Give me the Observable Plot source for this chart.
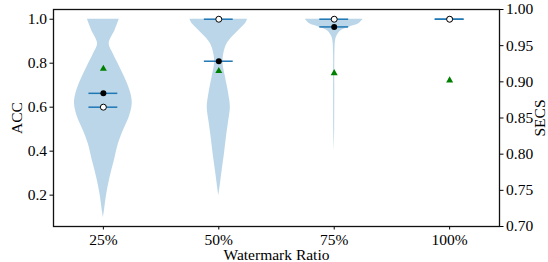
<!DOCTYPE html>
<html>
<head>
<meta charset="utf-8">
<script src="https://cdn.jsdelivr.net/npm/d3@7"></script>
<script src="https://cdn.jsdelivr.net/npm/@observablehq/plot@0.6"></script>
<style>
  html, body { margin: 0; padding: 0; background: #fff; }
</style>
</head>
<body>
<div id="chart"></div>
<script>
// ---- data ----
const categories = ["25%", "50%", "75%", "100%"];
const positions = [1, 2, 3, 4];
const accMean = [0.663, 0.809, 0.965, 1.0];     // black dots
const accMedian = [0.60, 1.0, 1.0, 1.0];        // white dots
const secsValues = [0.918, 0.915, 0.912, 0.902]; // green triangles (right axis)
const accTicks = [0.2, 0.4, 0.6, 0.8, 1.0];
const secsTicks = [0.70, 0.75, 0.80, 0.85, 0.90, 0.95, 1.00];

// violin profiles: [ACC value, half-width]
const violin25 = [[0.098,0],[0.128,0.009],[0.204,0.029],[0.28,0.058],[0.356,0.095],[0.432,0.13],[0.493,0.173],[0.553,0.223],[0.615,0.25],[0.66,0.239],[0.721,0.197],[0.781,0.144],[0.842,0.086],[0.888,0.05],[0.949,0.101],[1.0,0.138]];
const violin50 = [[0.197,0],[0.25,0.014],[0.311,0.029],[0.387,0.049],[0.462,0.066],[0.538,0.086],[0.599,0.1],[0.66,0.086],[0.736,0.058],[0.797,0.037],[0.842,0.043],[0.888,0.072],[0.918,0.115],[0.949,0.173],[0.979,0.23],[1.0,0.25]];
const violin75 = [[0.402,0],[0.5,0.004],[0.7,0.005],[0.85,0.006],[0.903,0.012],[0.926,0.026],[0.949,0.062],[0.964,0.13],[0.979,0.213],[1.0,0.25]];
const violins = [violin25, violin50, violin75, []];

// ---- build tables ----
const yDomain = [0.0574, 1.0442];
const secsDomain = [0.70, 1.00];
const toAcc = s => yDomain[0] + (s - secsDomain[0]) / (secsDomain[1] - secsDomain[0]) * (yDomain[1] - yDomain[0]);
const fromAcc = a => secsDomain[0] + (a - yDomain[0]) / (yDomain[1] - yDomain[0]) * (secsDomain[1] - secsDomain[0]);

const violinRows = [];
violins.forEach((prof, i) => prof.forEach(([v, hw]) => violinRows.push({pos: positions[i], v, hw})));
const points = positions.map((p, i) => ({pos: p, mean: accMean[i], median: accMedian[i], secs: toAcc(secsValues[i])}));

const font = "'Liberation Serif', 'Times New Roman', serif";
const fs = 15.5;

const chart = Plot.plot({
  width: 548,
  height: 262,
  marginLeft: 53,
  marginRight: 49,
  marginTop: 9,
  marginBottom: 36,
  style: {fontFamily: font, fontSize: fs + "px", color: "#000", background: "#fff"},
  x: {type: "linear", domain: [0.568, 4.432]},
  y: {type: "linear", domain: yDomain},
  marks: [
    Plot.areaX(violinRows, {
      y: "v",
      x1: d => d.pos - d.hw,
      x2: d => d.pos + d.hw,
      z: "pos",
      fill: "#1f77b4",
      fillOpacity: 0.3,
      curve: "catmull-rom"
    }),
    Plot.ruleY(points, {y: "mean", x1: d => d.pos - 0.125, x2: d => d.pos + 0.125, stroke: "#1f77b4", strokeWidth: 1.5}),
    Plot.ruleY(points, {y: "median", x1: d => d.pos - 0.125, x2: d => d.pos + 0.125, stroke: "#1f77b4", strokeWidth: 1.5}),
    Plot.dot(points, {x: "pos", y: "mean", r: 3, fill: "black"}),
    Plot.dot(points, {x: "pos", y: "median", r: 3, fill: "white", stroke: "black", strokeWidth: 1}),
    Plot.dot(points, {x: "pos", y: "secs", r: 2.6, symbol: "triangle", fill: "#008000"}),
    Plot.axisY(accTicks, {anchor: "left", tickSize: 3.5, tickPadding: 3, fontSize: fs, tickFormat: d => d.toFixed(1), label: null}),
    Plot.axisY(secsTicks.map(toAcc), {anchor: "right", tickSize: 3.5, tickPadding: 3, fontSize: fs, tickFormat: d => fromAcc(d).toFixed(2), label: null}),
    Plot.axisX(positions, {anchor: "bottom", tickSize: 3.5, tickPadding: 4, fontSize: fs, tickFormat: d => categories[positions.indexOf(d)], label: null}),
    Plot.text(["ACC"], {frameAnchor: "left", dx: -36, rotate: -90, textAnchor: "middle", lineAnchor: "middle", fontSize: fs}),
    Plot.text(["SECS"], {frameAnchor: "right", dx: 41, rotate: -90, textAnchor: "middle", lineAnchor: "middle", fontSize: fs}),
    Plot.text(["Watermark Ratio"], {frameAnchor: "bottom", dy: 28.6, textAnchor: "middle", lineAnchor: "middle", fontSize: fs}),
    Plot.frame({stroke: "#111", strokeWidth: 1.3})
  ]
});
document.getElementById("chart").appendChild(chart);
</script>
</body>
</html>
